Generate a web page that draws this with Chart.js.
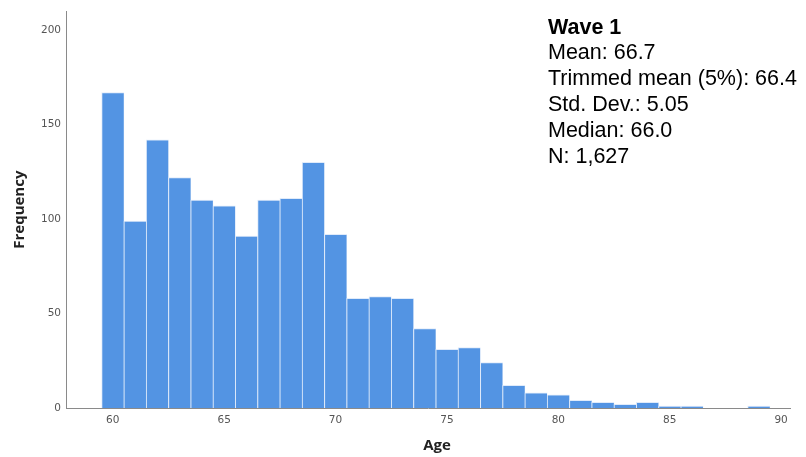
<!DOCTYPE html>
<html>
<head>
<meta charset="utf-8">
<style>
  html, body { margin: 0; padding: 0; background: #fff; }
  #wrap { width: 806px; height: 457px; }
</style>
<script src="https://cdn.jsdelivr.net/npm/chart.js@4/dist/chart.umd.min.js"></script>
</head>
<body>
<div id="wrap"><canvas id="hist" width="806" height="457"></canvas></div>
<script>
// Age in years (bin centre) and number of respondents per one-year bin
const ages = [60, 61, 62, 63, 64, 65, 66, 67, 68, 69, 70, 71, 72, 73, 74,
              75, 76, 77, 78, 79, 80, 81, 82, 83, 84, 85, 86, 87, 88, 89];
const counts = [167, 99, 142, 122, 110, 107, 91, 110, 111, 130, 92, 58, 59, 58, 42,
                31, 32, 24, 12, 8, 7, 4, 3, 2, 3, 1, 1, 0, 0, 1];

const xTickValues = [60, 65, 70, 75, 80, 85, 90];
const yTickValues = [0, 50, 100, 150, 200];

const statsTitle = 'Wave 1';
const statsLines = [
  'Mean: 66.7',
  'Trimmed mean (5%): 66.4',
  'Std. Dev.: 5.05',
  'Median: 66.0',
  'N: 1,627'
];

const xTitle = 'Age';
const yTitle = 'Frequency';

const points = ages.map((a, i) => ({ x: a, y: counts[i] }));

// Summary statistics block and axis titles
const annotations = {
  id: 'annotations',
  afterDraw(chart) {
    const ctx = chart.ctx;
    ctx.save();
    ctx.fillStyle = '#000';
    ctx.textAlign = 'left';
    ctx.textBaseline = 'alphabetic';
    ctx.font = 'bold 21.5px "Liberation Sans", Arial, sans-serif';
    ctx.fillText(statsTitle, 548, 33.5);
    ctx.font = '21.5px "Liberation Sans", Arial, sans-serif';
    statsLines.forEach((t, i) => ctx.fillText(t, 548, 33.5 + (i + 1) * 25.9));

    ctx.fillStyle = '#222';
    ctx.font = 'bold 15px "Open Sans", sans-serif';
    ctx.textAlign = 'center';
    ctx.textBaseline = 'middle';
    ctx.fillText(xTitle, 437, 446);
    const area = chart.chartArea;
    ctx.translate(19.5, (area.top + area.bottom) / 2);
    ctx.rotate(-Math.PI / 2);
    ctx.fillText(yTitle, 0, 0);
    ctx.restore();
  }
};

new Chart(document.getElementById('hist'), {
  type: 'bar',
  data: {
    datasets: [{
      data: points,
      backgroundColor: '#5394E3',
      borderColor: 'rgba(222,234,250,0.95)',
      borderWidth: { top: 1, left: 1, right: 0.5, bottom: 0 },
      borderSkipped: false,
      barPercentage: 1,
      categoryPercentage: 1
    }]
  },
  options: {
    responsive: false,
    animation: false,
    layout: { padding: { top: 10, right: 16, left: 0, bottom: 0 } },
    plugins: { legend: { display: false }, tooltip: { enabled: false } },
    scales: {
      x: {
        type: 'linear',
        offset: false,
        min: 57.9,
        max: 90.4,
        afterBuildTicks(scale) { scale.ticks = xTickValues.map(v => ({ value: v })); },
        afterFit(scale) { scale.height = 49; },
        grid: { display: false, drawTicks: false },
        border: { display: true, color: '#8a8a8a', width: 1 },
        ticks: {
          padding: 6,
          color: '#555',
          font: { family: 'DejaVu Sans', size: 10.5 },
          maxRotation: 0,
          autoSkip: false
        }
      },
      y: {
        min: 0,
        max: 210,
        afterBuildTicks(scale) { scale.ticks = yTickValues.map(v => ({ value: v })); },
        afterFit(scale) { scale.width = 66; },
        grid: { display: false, drawTicks: false },
        border: { display: true, color: '#8a8a8a', width: 1 },
        ticks: {
          padding: 5,
          color: '#555',
          font: { family: 'DejaVu Sans', size: 10.5 }
        }
      }
    }
  },
  plugins: [annotations]
});
</script>
</body>
</html>
